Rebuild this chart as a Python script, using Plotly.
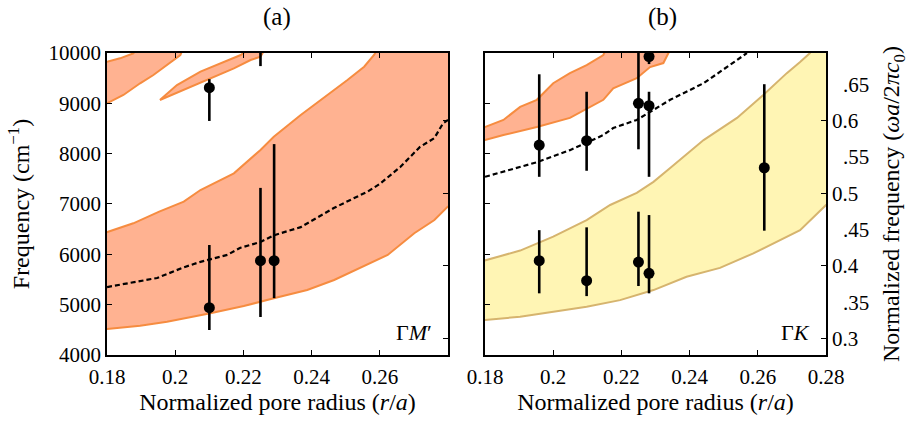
import plotly.graph_objects as go

# ---------------- data ----------------
K_NORM = 14425.0  # cm^-1 per unit of normalized frequency

# Panel (a): Gamma-M'
a_band1_low_r = [0.1795, 0.18, 0.1897, 0.1976, 0.2103, 0.2201, 0.2289, 0.2387, 0.2466, 0.2544, 0.2623, 0.2701, 0.276, 0.2799, 0.2805]
a_band1_low_f = [4516, 4516, 4582, 4662, 4828, 4973, 5126, 5291, 5490, 5742, 5987, 6418, 6682, 6946, 6946]
a_band1_up_r = [0.1795, 0.18, 0.1877, 0.1953, 0.2025, 0.2074, 0.2172, 0.225, 0.2289, 0.2368, 0.2446, 0.2505, 0.2554, 0.2583, 0.262, 0.2805]
a_band1_up_f = [6430, 6430, 6616, 6847, 7046, 7278, 7610, 8073, 8337, 8768, 9166, 9464, 9728, 9960, 10400, 10400]

a_band2_low_r = [0.1795, 0.18, 0.1848, 0.1897, 0.1936, 0.1976, 0.2015, 0.203]
a_band2_low_f = [9000, 9000, 9166, 9398, 9563, 9762, 9960, 10200]
a_band2_up_r = [0.1795, 0.18, 0.1838, 0.1877, 0.19]
a_band2_up_f = [9828, 9828, 9894, 9993, 10200]

a_band3_low_r = [0.1955, 0.2025, 0.2103, 0.2172, 0.2221, 0.225, 0.2265]
a_band3_low_f = [9066, 9265, 9497, 9696, 9861, 9927, 10100]
a_band3_up_r = [0.1955, 0.2005, 0.2074, 0.2133, 0.2192, 0.222]
a_band3_up_f = [9066, 9364, 9629, 9795, 9960, 10100]

a_line_r = [0.18, 0.1877, 0.1947, 0.2025, 0.2074, 0.2153, 0.2191, 0.225, 0.229, 0.2368, 0.2465, 0.2565, 0.26, 0.266, 0.2717, 0.276, 0.2785, 0.28]
a_line_f = [5350, 5450, 5530, 5742, 5850, 5990, 6130, 6245, 6380, 6540, 6920, 7250, 7400, 7735, 8130, 8310, 8600, 8670]

a_pts_r = [0.21, 0.225, 0.229, 0.21, 0.225]
a_pts_f = [4940, 5873, 5873, 9310, 10300]
a_pts_up = [1245, 1447, 2317, 170, 200]
a_pts_dn = [444, 1118, 743, 660, 560]

# Panel (b): Gamma-K
b_band1_low_r = [0.1795, 0.18, 0.1854, 0.1952, 0.2049, 0.2147, 0.2176, 0.2245, 0.2284, 0.2323, 0.2338, 0.236]
b_band1_low_f = [8270, 8270, 8370, 8530, 8710, 9070, 9300, 9500, 9720, 9800, 10000, 10300]
b_band1_up_r = [0.1795, 0.18, 0.1854, 0.1903, 0.1952, 0.2, 0.2049, 0.2098, 0.2147, 0.217]
b_band1_up_f = [8530, 8530, 8670, 8930, 9070, 9400, 9600, 9760, 9960, 10300]

b_band2_low_r = [0.1795, 0.18, 0.1903, 0.2, 0.2098, 0.2196, 0.2294, 0.2391, 0.2489, 0.2587, 0.2685, 0.2724, 0.28, 0.2805]
b_band2_low_f = [4695, 4695, 4760, 4860, 4960, 5090, 5290, 5555, 5730, 6020, 6350, 6480, 6980, 6980]
b_band2_up_r = [0.1795, 0.18, 0.1903, 0.2, 0.2098, 0.2167, 0.2245, 0.2294, 0.2343, 0.2441, 0.2539, 0.2616, 0.2685, 0.2724, 0.2753, 0.278, 0.2805]
b_band2_up_f = [5870, 5870, 6075, 6350, 6680, 6980, 7220, 7440, 7715, 8270, 8710, 9165, 9600, 9820, 10000, 10300, 10300]

b_line_r = [0.18, 0.1854, 0.1952, 0.2049, 0.2147, 0.2176, 0.2245, 0.2343, 0.2441, 0.2539, 0.2568]
b_line_f = [7540, 7640, 7830, 8070, 8370, 8510, 8670, 9070, 9400, 9860, 10000]

b_pts_r = [0.1959, 0.2098, 0.225, 0.2281, 0.2281, 0.2619, 0.1959, 0.2098, 0.225, 0.2281]
b_pts_f = [8170, 8257, 9000, 8953, 9930, 7720, 5873, 5476, 5847, 5623]
b_pts_up = [1407, 973, 1500, 277, 300, 1660, 607, 1060, 1000, 1157]
b_pts_dn = [630, 597, 913, 1413, 150, 1250, 648, 306, 477, 398]

x_ticks_a = [0.18, 0.2, 0.22, 0.24, 0.26]
x_ticks_b = [0.18, 0.2, 0.22, 0.24, 0.26, 0.28]
x_ticktext_a = ["0.18", "0.2", "0.22", "0.24", "0.26"]
x_ticktext_b = ["0.18", "0.2", "0.22", "0.24", "0.26", "0.28"]
f_ticks = [4000, 5000, 6000, 7000, 8000, 9000, 10000]
f_ticktext = ["4000", "5000", "6000", "7000", "8000", "9000", "10000"]
n_major = [0.3, 0.4, 0.5, 0.6]
n_major_text = ["0.3", "0.4", "0.5", "0.6"]
n_minor = [0.35, 0.45, 0.55, 0.65]
n_minor_text = [".35", ".45", ".55", ".65"]

# ---------------- style ----------------
FONT = "Liberation Serif"
ORANGE_FILL = "rgb(255,178,145)"
ORANGE_EDGE = "rgb(246,140,64)"
YELLOW_FILL = "rgb(255,245,180)"
YELLOW_EDGE = "rgb(214,180,110)"

fig = go.Figure()


def band(r_low, f_low, r_up, f_up, fill, edge, xa, ya):
    xs = list(r_low) + list(reversed(r_up))
    ys = list(f_low) + list(reversed(f_up))
    fig.add_trace(go.Scatter(x=xs, y=ys, mode="lines", fill="toself", fillcolor=fill,
                             line=dict(color=edge, width=2), hoverinfo="skip",
                             showlegend=False, xaxis=xa, yaxis=ya))


band(a_band1_low_r, a_band1_low_f, a_band1_up_r, a_band1_up_f, ORANGE_FILL, ORANGE_EDGE, "x", "y")
band(a_band2_low_r, a_band2_low_f, a_band2_up_r, a_band2_up_f, ORANGE_FILL, ORANGE_EDGE, "x", "y")
band(a_band3_low_r, a_band3_low_f, a_band3_up_r, a_band3_up_f, ORANGE_FILL, ORANGE_EDGE, "x", "y")
band(b_band1_low_r, b_band1_low_f, b_band1_up_r, b_band1_up_f, ORANGE_FILL, ORANGE_EDGE, "x2", "y2")
band(b_band2_low_r, b_band2_low_f, b_band2_up_r, b_band2_up_f, YELLOW_FILL, YELLOW_EDGE, "x2", "y2")

for xs, ys, xa, ya in [(a_line_r, a_line_f, "x", "y"), (b_line_r, b_line_f, "x2", "y2")]:
    fig.add_trace(go.Scatter(x=xs, y=ys, mode="lines",
                             line=dict(color="black", width=2.2, dash="5px,3px"),
                             showlegend=False, xaxis=xa, yaxis=ya))

for xs, ys, up, dn, xa, ya in [(a_pts_r, a_pts_f, a_pts_up, a_pts_dn, "x", "y"),
                               (b_pts_r, b_pts_f, b_pts_up, b_pts_dn, "x2", "y2")]:
    fig.add_trace(go.Scatter(x=xs, y=ys, mode="markers",
                             marker=dict(color="black", size=11),
                             error_y=dict(type="data", symmetric=False, array=up, arrayminus=dn,
                                          color="black", thickness=2.6, width=0),
                             showlegend=False, xaxis=xa, yaxis=ya))

# invisible anchor traces so the normalized-frequency axes are drawn
for xa, ya in [("x", "y3"), ("x2", "y4"), ("x2", "y5")]:
    fig.add_trace(go.Scatter(x=[0.23], y=[0.5], mode="markers", marker=dict(opacity=0, size=1),
                             hoverinfo="skip", showlegend=False, xaxis=xa, yaxis=ya))

DOM_Y = [0.1588, 0.8744]
nrange = [4000 / K_NORM, 10000 / K_NORM]
tickfont = dict(family=FONT, size=21, color="black")
common_axis = dict(showgrid=False, zeroline=False, showline=True, linecolor="black", linewidth=1.5,
                   ticks="inside", ticklen=5, tickwidth=1.2, tickcolor="black", tickfont=tickfont,
                   automargin=False)
xtitle = dict(text="Normalized pore radius (<i>r</i>/<i>a</i>)", font=dict(family=FONT, size=24), standoff=4)

fig.update_layout(
    width=911, height=422, margin=dict(l=0, r=0, t=0, b=0, autoexpand=False),
    paper_bgcolor="white", plot_bgcolor="white",
    font=dict(family=FONT, color="black"),
    xaxis=dict(domain=[0.1175, 0.4918], range=[0.18, 0.28], anchor="y", mirror="ticks",
               tickvals=x_ticks_a, ticktext=x_ticktext_a, ticklabelstandoff=2,
               title=xtitle, **common_axis),
    yaxis=dict(domain=DOM_Y, range=[4000, 10000], anchor="x", tickvals=f_ticks, ticktext=f_ticktext,
               title=dict(text="Frequency (cm<sup>−1</sup>)", font=dict(family=FONT, size=24), standoff=12),
               **common_axis),
    yaxis3=dict(overlaying="y", side="right", anchor="x", range=nrange, tickvals=n_major,
                showticklabels=False, **common_axis),
    xaxis2=dict(domain=[0.5324, 0.9067], range=[0.18, 0.28], anchor="y2", mirror="ticks",
                tickvals=x_ticks_b, ticktext=x_ticktext_b, ticklabelstandoff=2,
                title=xtitle, **common_axis),
    yaxis2=dict(domain=DOM_Y, range=[4000, 10000], anchor="x2", tickvals=f_ticks,
                showticklabels=False, **common_axis),
    yaxis4=dict(overlaying="y2", side="right", anchor="x2", range=nrange, tickvals=n_major,
                ticktext=n_major_text,
                title=dict(text="Normalized frequency (<i>ωa</i>/2<i>πc</i><sub>0</sub>)",
                           font=dict(family=FONT, size=24), standoff=25),
                **common_axis),
    yaxis5=dict(overlaying="y2", side="right", anchor="x2", range=nrange, tickvals=n_minor,
                ticktext=n_minor_text, showgrid=False, zeroline=False, showline=False,
                ticks="", tickfont=tickfont, ticklabelstandoff=16, automargin=False),
)

fig.add_annotation(text="(a)", x=0.304, y=0.96, xref="paper", yref="paper", showarrow=False,
                   font=dict(family=FONT, size=25), xanchor="center", yanchor="middle")
fig.add_annotation(text="(b)", x=0.7267, y=0.96, xref="paper", yref="paper", showarrow=False,
                   font=dict(family=FONT, size=25), xanchor="center", yanchor="middle")
fig.add_annotation(text="Γ<i>M</i>′", x=0.276, y=4450, xref="x", yref="y", showarrow=False,
                   font=dict(family=FONT, size=22), xanchor="right", yanchor="middle")
fig.add_annotation(text="Γ<i>K</i>", x=0.276, y=4450, xref="x2", yref="y2", showarrow=False,
                   font=dict(family=FONT, size=22), xanchor="right", yanchor="middle")

fig.write_html("out.html")
